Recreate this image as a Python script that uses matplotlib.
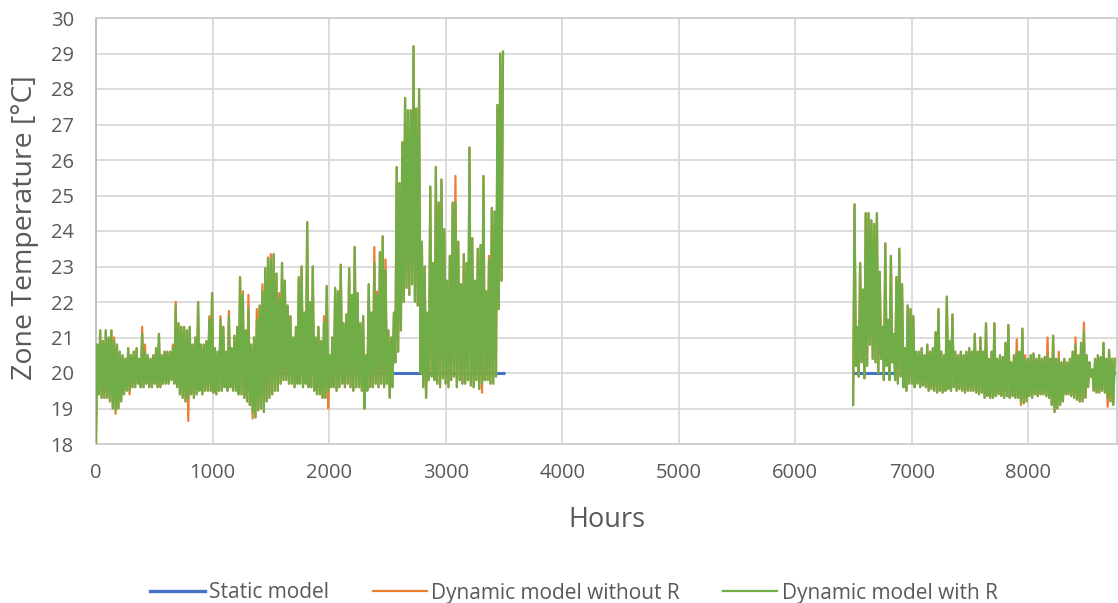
import numpy as np
import matplotlib
matplotlib.use("Agg")
import matplotlib.pyplot as plt
from matplotlib.lines import Line2D

plt.rcParams["font.family"] = ["Open Sans", "DejaVu Sans"]

# ---------------------------------------------------------------------------
# Data: zone temperature [degC], summarised per day as (daily low, daily high)
# Heating season part 1: hours 0 .. 3504, part 2: hours 6496 .. 8760
# ---------------------------------------------------------------------------
series_names = ["Static model", "Dynamic model without R", "Dynamic model with R"]

static_hours = [0, 3508, np.nan, 6488, 8760]
static_temp = [20.0, 20.0, np.nan, 20.0, 20.0]

season1_start = 0
season2_start = 6496

# Dynamic model with R, season 1 (one value per day)
season1_low = [
    18.0, 19.4, 19.3, 19.3, 19.3, 19.2, 19.0, 18.95, 19.0, 19.2,
    19.4, 19.5, 19.5, 19.6, 19.6, 19.7, 19.6, 19.6, 19.7, 19.6,
    19.6, 19.7, 19.6, 19.6, 19.7, 19.7, 19.7, 19.8, 19.7, 19.6,
    19.4, 19.3, 19.2, 19.3, 19.4, 19.3, 19.4, 19.5, 19.4, 19.5,
    19.5, 19.5, 19.45, 19.4, 19.5, 19.5, 19.6, 19.5, 19.6, 19.5,
    19.5, 19.4, 19.4, 19.3, 19.2, 19.1, 18.9, 18.75, 18.95, 19.0,
    18.9, 19.2, 19.3, 19.4, 19.5, 19.5, 19.7, 19.8, 19.8, 19.7,
    19.7, 19.6, 19.7, 19.7, 19.6, 19.7, 19.6, 19.6, 19.5, 19.4,
    19.4, 19.3, 19.3, 19.5, 19.6, 19.6, 19.5, 19.6, 19.7, 19.6,
    19.7, 19.6, 19.5, 19.6, 19.6, 19.5, 19.0, 19.5, 19.6, 19.6,
    19.7, 19.6, 19.7, 19.6, 19.7, 19.3, 19.6, 20.3, 20.6, 21.2,
    22.0, 22.4, 22.2, 22.5, 22.0, 21.9, 20.0, 19.6, 19.3, 19.8,
    19.9, 19.8, 19.7, 19.6, 19.85, 19.7, 19.6, 19.8, 19.9, 19.6,
    19.8, 19.7, 19.7, 19.8, 19.65, 19.6, 19.8, 19.55, 19.7, 19.8,
    19.8, 19.7, 19.7, 19.9, 21.8, 22.6,
]
season1_high = [
    20.8, 21.2, 20.9, 21.2, 21.0, 21.2, 20.9, 20.8, 20.6, 20.5,
    20.4, 20.7, 20.5, 20.6, 20.7, 20.4, 21.1, 20.6, 20.5, 20.4,
    20.5, 20.7, 21.1, 20.5, 20.6, 20.6, 20.6, 20.7, 21.9, 21.4,
    21.3, 21.3, 21.2, 21.3, 20.8, 21.0, 22.0, 20.8, 20.8, 20.9,
    21.5, 22.25, 20.7, 20.6, 21.5, 21.3, 20.6, 21.6, 20.7, 21.05,
    21.3, 22.7, 22.2, 21.2, 21.8, 20.8, 21.0, 21.5, 21.9, 22.3,
    22.95, 23.25, 23.2, 23.35, 22.8, 22.1, 23.1, 22.6, 21.9, 21.6,
    21.0, 21.3, 22.7, 23.0, 21.7, 24.25, 22.0, 23.0, 21.0, 21.3,
    20.9, 21.4, 22.45, 20.5, 21.0, 22.4, 22.3, 23.05, 21.4, 21.65,
    22.95, 22.2, 23.55, 22.25, 21.4, 21.6, 20.5, 22.5, 21.7, 23.1,
    22.2, 23.4, 23.85, 22.9, 21.2, 21.0, 21.7, 25.8, 25.35, 26.5,
    27.75, 27.4, 27.4, 29.2, 27.45, 28.0, 23.7, 23.0, 21.7, 25.25,
    23.1, 25.8, 24.8, 25.45, 24.05, 22.6, 23.3, 24.8, 24.8, 23.7,
    22.5, 23.35, 23.1, 26.35, 23.8, 22.6, 23.5, 23.6, 25.55, 22.3,
    23.2, 24.65, 24.55, 27.55, 29.0, 29.05,
]

# Dynamic model with R, season 2 (one value per day)
season2_low = [
    19.1, 20.2, 19.9, 20.3, 19.85, 20.2, 20.8, 20.4, 20.3, 20.0,
    20.4, 19.8, 20.2, 19.8, 20.3, 19.8, 19.7, 19.9, 19.6, 19.5,
    19.7, 19.7, 19.6, 19.7, 19.6, 19.65, 19.6, 19.5, 19.55, 19.5,
    19.45, 19.5, 19.45, 19.5, 19.55, 19.5, 19.6, 19.5, 19.55, 19.5,
    19.45, 19.5, 19.5, 19.5, 19.45, 19.4, 19.45, 19.3, 19.35, 19.3,
    19.3, 19.35, 19.4, 19.35, 19.3, 19.35, 19.3, 19.35, 19.3, 19.3,
    19.2, 19.15, 19.2, 19.35, 19.3, 19.4, 19.35, 19.4, 19.4, 19.35,
    19.3, 19.1, 18.9, 19.0, 19.1, 19.2, 19.4, 19.4, 19.35, 19.3,
    19.25, 19.2, 19.2, 19.3, 19.6, 19.9, 19.5, 19.45, 19.45, 19.5,
    19.45, 19.3, 19.2, 19.1,
]
season2_high = [
    24.75, 21.3, 23.1, 22.35, 24.5, 24.5, 24.3, 24.2, 24.5, 22.85,
    21.3, 23.65, 21.5, 23.3, 21.1, 22.7, 23.5, 22.5, 20.7, 21.9,
    21.8, 21.6, 20.6, 20.6, 20.7, 20.5, 20.8, 20.6, 20.7, 21.15,
    21.8, 20.6, 20.5, 22.15, 20.9, 21.65, 20.6, 20.5, 20.6, 20.5,
    20.6, 20.7, 20.6, 21.1, 20.6, 21.0, 20.6, 21.4, 20.4, 20.6,
    21.4, 20.4, 20.5, 20.45, 20.85, 21.35, 20.3, 20.5, 20.6, 20.6,
    21.25, 20.4, 20.4, 20.5, 20.55, 20.4, 20.5, 20.4, 20.45, 20.5,
    20.4, 21.05, 20.4, 20.4, 20.3, 20.4, 20.3, 20.4, 20.6, 20.8,
    20.5, 20.85, 21.15, 20.5, 20.3, 20.1, 20.4, 20.5, 20.45, 20.85,
    20.4, 20.65, 20.4, 20.4,
]

# Dynamic model without R: same days, differing only where listed (day index -> value)
noR_season1_low = {7: 18.85, 12: 19.4, 33: 18.65, 56: 18.72, 83: 19.0, 138: 19.45}
noR_season1_high = {6: 21.0, 16: 21.3, 17: 20.8, 27: 20.8, 28: 22.0, 40: 21.6,
                    44: 21.6, 47: 21.75, 52: 22.3, 54: 22.2, 57: 21.8, 59: 22.5,
                    62: 23.35, 65: 22.25, 81: 21.6, 99: 23.55, 100: 22.3,
                    103: 23.2, 128: 25.55, 140: 23.3}
noR_season2_low = {60: 19.1, 91: 19.05}
noR_season2_high = {58: 20.95, 61: 20.5, 69: 21.0, 73: 20.6, 79: 21.0, 82: 21.42}

x_ticks = [0, 1000, 2000, 3000, 4000, 5000, 6000, 7000, 8000]
y_ticks = list(range(18, 31))

# ---------------------------------------------------------------------------
def daily_trace(start, lows, highs):
    """Hourly-looking trace: each day goes from its low to its high."""
    day = start + 24 * np.arange(len(lows))
    x = np.column_stack([day, day + 12]).ravel().astype(float)
    y = np.column_stack([lows, highs]).ravel().astype(float)
    return x, y


def apply(values, changes):
    out = list(values)
    for k, v in changes.items():
        out[k] = v
    return out


def full_year(s1_low, s1_high, s2_low, s2_high):
    x1, y1 = daily_trace(season1_start, s1_low, s1_high)
    x2, y2 = daily_trace(season2_start, s2_low, s2_high)
    return (np.concatenate([x1, [np.nan], x2]),
            np.concatenate([y1, [np.nan], y2]))


withR_x, withR_y = full_year(season1_low, season1_high, season2_low, season2_high)
noR_x, noR_y = full_year(apply(season1_low, noR_season1_low),
                         apply(season1_high, noR_season1_high),
                         apply(season2_low, noR_season2_low),
                         apply(season2_high, noR_season2_high))

BLUE, ORANGE, GREEN = "#4472C4", "#ED7D31", "#70AD47"
TXT = "#595959"
GRID = "#d9d9d9"

fig = plt.figure(figsize=(11.18, 6.03), dpi=100)
ax = fig.add_axes([96 / 1118, 1 - 444 / 603, (1117 - 96) / 1118, (444 - 18) / 603])

ax.plot(static_hours, static_temp, color=BLUE, lw=2.2, solid_capstyle="butt", zorder=2)
ax.plot(noR_x, noR_y, color=ORANGE, lw=1.6, zorder=3)
ax.plot(withR_x, withR_y, color=GREEN, lw=1.6, zorder=4)

ax.set_xlim(0, 8760)
ax.set_ylim(18, 30)
ax.set_xticks(x_ticks)
ax.set_yticks(y_ticks)
ax.grid(True, color=GRID, lw=1.3)
ax.set_axisbelow(True)
for side, sp in ax.spines.items():
    sp.set_color("#d0d0d0")
    sp.set_linewidth(1.4)
ax.spines["left"].set_color("#bfbfbf")
ax.tick_params(axis="both", length=0, labelsize=14.5, labelcolor=TXT)
ax.tick_params(axis="x", pad=14)
ax.tick_params(axis="y", pad=16)

fig.text(25 / 1118, 1 - 228 / 603, "Zone Temperature [°C]", rotation=90,
         ha="center", va="center", fontsize=20.5, color=TXT)
fig.text(606.5 / 1118, 1 - 520 / 603, "Hours", ha="center", va="center",
         fontsize=19.5, color=TXT)

handles = [Line2D([], [], color=BLUE, lw=2.4),
           Line2D([], [], color=ORANGE, lw=1.6),
           Line2D([], [], color=GREEN, lw=1.6)]
leg = fig.legend(handles, series_names, loc="center", ncol=3, frameon=False,
                 bbox_to_anchor=(574 / 1118, 1 - 593 / 603), fontsize=15,
                 handlelength=2.6, handletextpad=0.2, columnspacing=2.1)
for t in leg.get_texts():
    t.set_color(TXT)

fig.savefig("out.png", dpi=100)
